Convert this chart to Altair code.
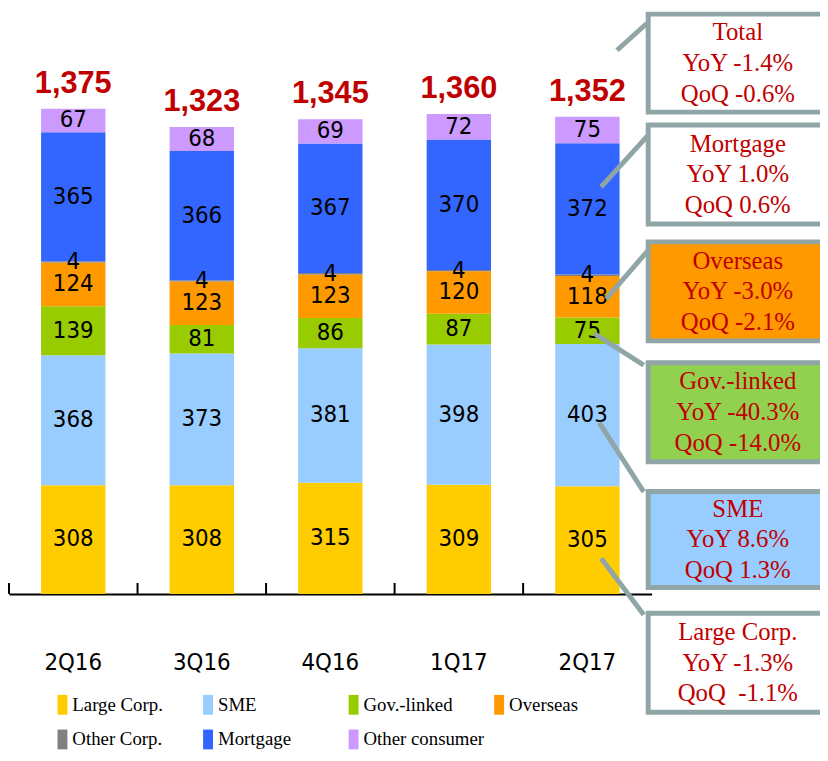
import altair as alt
import pandas as pd

# ---------------- data ----------------
quarters = ["2Q16", "3Q16", "4Q16", "1Q17", "2Q17"]
segments = ["Large Corp.", "SME", "Gov.-linked", "Overseas", "Other Corp.", "Mortgage", "Other consumer"]
large_corp = [308, 308, 315, 309, 305]
sme = [368, 373, 381, 398, 403]
gov_linked = [139, 81, 86, 87, 75]
overseas = [124, 123, 123, 120, 118]
other_corp = [4, 4, 4, 4, 4]
mortgage = [365, 366, 367, 370, 372]
other_consumer = [67, 68, 69, 72, 75]
totals = [1375, 1323, 1345, 1360, 1352]

callout_titles = ["Total", "Mortgage", "Overseas", "Gov.-linked", "SME", "Large Corp."]
callout_yoy = ["YoY -1.4%", "YoY 1.0%", "YoY -3.0%", "YoY -40.3%", "YoY 8.6%", "YoY -1.3%"]
callout_qoq = ["QoQ -0.6%", "QoQ 0.6%", "QoQ -2.1%", "QoQ -14.0%", "QoQ 1.3%", "QoQ\u00a0 -1.1%"]

# ---------------- style / layout ----------------
seg_colors = ["#FFCC00", "#99CCFF", "#99CC00", "#FF9900", "#808080", "#3366FF", "#CC99FF"]
box_fills = ["#FFFFFF", "#FFFFFF", "#FF9900", "#92D050", "#99CCFF", "#FFFFFF"]
border = "#8FA5A6"
red = "#C00000"
narrow = "Liberation Sans Narrow, Arial Narrow, DejaVu Sans Condensed, sans-serif"
serif = "Liberation Serif, Times New Roman, serif"

PAD_L, PAD_T = 1, 0
OX, OY = 8 + PAD_L, 8 + PAD_T          # page offset of plot origin
W, H = 649, 588
YMAX = 1650

box_left = 652
box_top = [8, 120, 238, 360, 490, 613]
box_bottom = [112, 225, 343, 465, 592, 718]
text_cx = 745
line_gap = 31
connectors = [(623, 47, 653, 20), (607, 185, 657, 130), (612, 298, 658, 245),
              (600, 333, 650, 365), (605, 423, 650, 493), (607, 560, 650, 617)]

# ---------------- tables ----------------
series = [large_corp, sme, gov_linked, overseas, other_corp, mortgage, other_consumer]
rows = []
for qi, q in enumerate(quarters):
    base = 0
    for si, s in enumerate(segments):
        v = series[si][qi]
        rows.append(dict(quarter=q, segment=s, value=v, y0=base, y1=base + v, mid=base + v / 2))
        base += v
seg_df = pd.DataFrame(rows)
tot_df = pd.DataFrame({"quarter": quarters, "total": totals})
q_df = pd.DataFrame({"quarter": quarters})

box_df = pd.DataFrame({
    "x0": [box_left + 2.5 - OX] * 6,
    "x1": [box_left + 300 - OX] * 6,
    "y0": [t + 2.5 - OY for t in box_top],
    "y1": [b - 2.5 - OY for b in box_bottom],
    "fill": box_fills,
})
conn_df = pd.DataFrame({
    "xa": [c[0] - OX for c in connectors], "ya": [c[1] - OY for c in connectors],
    "xb": [c[2] - OX for c in connectors], "yb": [c[3] - OY for c in connectors],
})
trow = []
for i in range(6):
    cy = (box_top[i] + box_bottom[i]) / 2
    for j, txt in enumerate([callout_titles[i], callout_yoy[i], callout_qoq[i]]):
        trow.append(dict(tx=text_cx - OX, ty=cy + (j - 1) * line_gap - OY, line=txt))
ctext_df = pd.DataFrame(trow)

# ---------------- chart ----------------
xaxis = alt.Axis(title=None, labelAngle=0, ticks=False, domainColor="black", domainWidth=2,
                 labelFont=narrow, labelFontSize=24, labelColor="black",
                 labelPadding=69, labelBaseline="middle")
xscale = alt.Scale(domain=quarters, paddingInner=0, paddingOuter=0)
yscale = alt.Scale(domain=[0, YMAX], nice=False, zero=True)

bars = alt.Chart(seg_df).mark_bar(width=65).encode(
    x=alt.X("quarter:N", sort=quarters, scale=xscale, axis=xaxis),
    y=alt.Y("y0:Q", scale=yscale, axis=None),
    y2="y1:Q",
    color=alt.Color("segment:N", scale=alt.Scale(domain=segments, range=seg_colors),
                    legend=alt.Legend(title=None, orient="none", legendX=44, legendY=690,
                                      direction="horizontal", columns=4,
                                      symbolType="M-0.5,-1H0.5V1H-0.5Z", symbolSize=400,
                                      symbolStrokeWidth=0, symbolOpacity=1,
                                      labelFont=serif, labelFontSize=19, labelColor="black",
                                      labelOffset=0, columnPadding=5, rowPadding=15,
                                      gridAlign="all", padding=0, labelLimit=300)),
)

ticks = alt.Chart(q_df).mark_rule(color="black", strokeWidth=2).encode(
    x=alt.X("quarter:N", sort=quarters, scale=xscale, axis=xaxis, bandPosition=0),
    y=alt.value(H - 11),
    y2=alt.value(H),
)

labels = alt.Chart(seg_df).mark_text(font=narrow, fontSize=24, color="black", baseline="middle").encode(
    x=alt.X("quarter:N", sort=quarters, scale=xscale, axis=xaxis),
    y=alt.Y("mid:Q", scale=yscale, axis=None),
    text="value:Q",
)

tot_labels = alt.Chart(tot_df).mark_text(font="Liberation Sans, Arial, sans-serif", fontSize=31,
                                          fontWeight="bold", color=red, baseline="alphabetic",
                                          dy=-16).encode(
    x=alt.X("quarter:N", sort=quarters, scale=xscale, axis=xaxis),
    y=alt.Y("total:Q", scale=yscale, axis=None),
    text=alt.Text("total:Q", format=","),
)

main = alt.layer(bars, ticks, labels, tot_labels)

conn = alt.Chart(conn_df).mark_rule(color=border, strokeWidth=5).encode(
    x=alt.X("xa:Q", scale=None), y=alt.Y("ya:Q", scale=None),
    x2="xb:Q", y2="yb:Q",
)
rects = alt.Chart(box_df).mark_rect(stroke=border, strokeWidth=5).encode(
    x=alt.X("x0:Q", scale=None), x2="x1:Q",
    y=alt.Y("y0:Q", scale=None), y2="y1:Q",
    fill=alt.Fill("fill:N", scale=None),
)
ctext = alt.Chart(ctext_df).mark_text(font=serif, fontSize=25, color=red,
                                       baseline="middle", align="center").encode(
    x=alt.X("tx:Q", scale=None), y=alt.Y("ty:Q", scale=None), text="line:N",
)
callouts = alt.layer(conn, rects, ctext)

chart = alt.layer(main, callouts).resolve_scale(
    x="independent", y="independent", fill="independent", color="independent"
).properties(
    width=W, height=H,
    autosize=alt.AutoSizeParams(type="none"),
    padding={"left": PAD_L, "top": PAD_T, "right": 170, "bottom": 157},
).configure_view(stroke=None)

chart.save("out.html", embed_options={"renderer": "svg", "actions": False})
